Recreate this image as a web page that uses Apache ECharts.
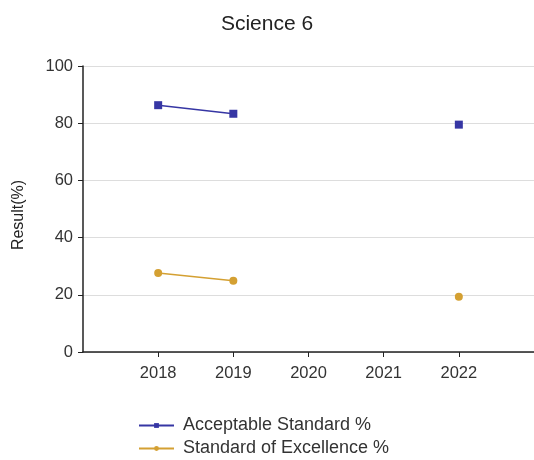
<!DOCTYPE html>
<html>
<head>
<meta charset="utf-8">
<script src="https://cdn.jsdelivr.net/npm/echarts@6/dist/echarts.min.js"></script>
<style>html,body{margin:0;padding:0;background:#fff;}#c{width:534px;height:460px;}</style>
</head>
<body>
<div id="c"></div>
<script>
var years = ['2017', '2018', '2019', '2020', '2021', '2022', '2023'];
var acceptable = [null, 86.3, 83.3, null, null, 79.5, null];
var excellence = [null, 27.6, 24.9, null, null, 19.3, null];
var yTicks = [0, 20, 40, 60, 80, 100];

var chart = echarts.init(document.getElementById('c'), null, {renderer: 'canvas'});
var font = '"Liberation Sans", Arial, sans-serif';
chart.setOption({
  animation: false,
  backgroundColor: '#fff',
  title: {
    text: 'Science 6', left: 'center', top: 9,
    textStyle: {fontFamily: font, fontSize: 21, fontWeight: 'normal', color: '#222'}
  },
  grid: {left: 83, right: 0, top: 66, bottom: 108, containLabel: false},
  legend: {
    orient: 'vertical', left: 138, top: 416, height: 80, padding: 0,
    itemWidth: 35, itemHeight: 6, itemGap: 4,
    textStyle: {fontFamily: font, fontSize: 18, lineHeight: 19, color: '#333', padding: [0, 0, 0, 4]},
    data: ['Acceptable Standard %', 'Standard of Excellence %']
  },
  xAxis: {
    type: 'category', data: years, boundaryGap: false,
    axisLine: {lineStyle: {color: '#222', width: 1.5}},
    axisTick: {length: 5, lineStyle: {color: '#222'}, interval: function (i) { return i > 0 && i < years.length - 1; }},
    axisLabel: {
      fontFamily: font, fontSize: 16.5, color: '#333', margin: 13,
      interval: function (i) { return i > 0 && i < years.length - 1; }
    },
    splitLine: {show: false}
  },
  yAxis: {
    type: 'value', min: yTicks[0], max: yTicks[yTicks.length - 1], interval: 20,
    name: 'Result(%)', nameLocation: 'middle', nameGap: 56, nameRotate: 90,
    nameTextStyle: {fontFamily: font, fontSize: 16, color: '#222', padding: [0, 12, 0, 0]},
    axisLine: {show: true, lineStyle: {color: '#222', width: 1.5}},
    axisTick: {show: true, length: 5, lineStyle: {color: '#222'}},
    axisLabel: {fontFamily: font, fontSize: 16.5, color: '#333', margin: 10},
    splitLine: {lineStyle: {color: '#ddd'}}
  },
  series: [
    {
      name: 'Acceptable Standard %', type: 'line', data: acceptable,
      connectNulls: false, symbol: 'rect', symbolSize: 8, showAllSymbol: true,
      itemStyle: {color: '#3636a4'}, lineStyle: {color: '#3636a4', width: 1.5}
    },
    {
      name: 'Standard of Excellence %', type: 'line', data: excellence,
      connectNulls: false, symbol: 'circle', symbolSize: 8, showAllSymbol: true,
      itemStyle: {color: '#d4a032'}, lineStyle: {color: '#d4a032', width: 1.5}
    }
  ]
});
</script>
</body>
</html>
